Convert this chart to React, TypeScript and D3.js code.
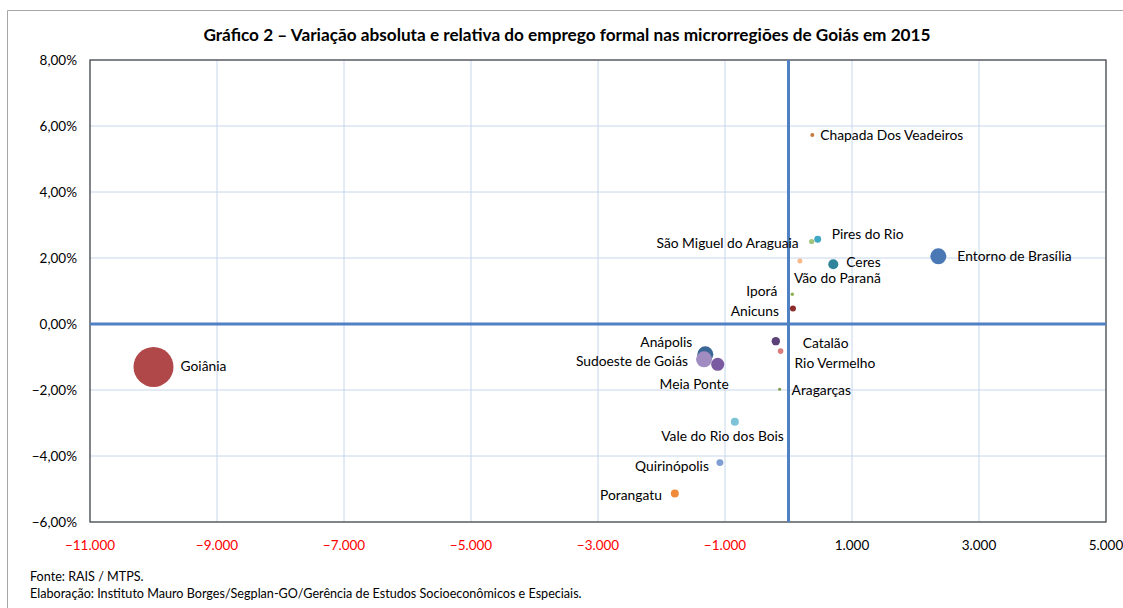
import * as d3 from "d3";

// microrregiões de Goiás, 2015
const regions = [
  "Goiânia",
  "Entorno de Brasília",
  "Ceres",
  "Pires do Rio",
  "São Miguel do Araguaia",
  "Chapada Dos Veadeiros",
  "Vão do Paranã",
  "Iporá",
  "Anicuns",
  "Anápolis",
  "Sudoeste de Goiás",
  "Meia Ponte",
  "Catalão",
  "Rio Vermelho",
  "Aragarças",
  "Vale do Rio dos Bois",
  "Quirinópolis",
  "Porangatu",
];

// variação absoluta (postos)
const absChange = [
  -10000, 2360, 705, 460, 365, 375, 180, 60, 70, -1310, -1330, -1115, -200, -125, -140, -845, -1080, -1790,
];

// variação relativa (%)
const relChange = [
  -1.3, 2.05, 1.81, 2.57, 2.5, 5.73, 1.91, 0.9, 0.47, -0.92, -1.07, -1.22, -0.52, -0.82, -1.98, -2.96, -4.2, -5.14,
];

// estoque de emprego formal (tamanho da bolha)
const stock = [
  700000, 112000, 44000, 21000, 12000, 7000, 11000, 5000, 16000, 112000, 112000, 75000, 31000, 14000, 4000, 28000, 21000,
  28000,
];

const colors = [
  "#b0484a", "#4a78b5", "#31859b", "#3fa8c4", "#a3c47c", "#c97b3f", "#f9b98a", "#8fb152", "#8e2c2c",
  "#3b6796", "#a18cc1", "#7a5aa0", "#5d4179", "#d97c7c", "#7a9a3f", "#7fc3d8", "#7f9fd3", "#f08b3b",
];

// label placement relative to the bubble: [dx, dy, anchor]
const labelPlacement: [number, number, string][] = [
  [27, -1, "start"],
  [19, 0, "start"],
  [13, -2, "start"],
  [14, -5, "start"],
  [-13, 2, "end"],
  [8, 0, "start"],
  [-6, 17, "start"],
  [-15, -3, "end"],
  [-14, 3, "end"],
  [-13, -12, "end"],
  [-16, 2, "end"],
  [11, 20, "end"],
  [27, 2, "start"],
  [14, 12, "start"],
  [12, 1, "start"],
  [49, 14, "end"],
  [-11, 4, "end"],
  [-13, 2, "end"],
];

const xTicks = [-11000, -9000, -7000, -5000, -3000, -1000, 1000, 3000, 5000];
const yTicks = [-6, -4, -2, 0, 2, 4, 6, 8];

const title = "Gráfico 2 – Variação absoluta e relativa do emprego formal nas microrregiões de Goiás em 2015";
const footnotes = [
  "Fonte: RAIS / MTPS.",
  "Elaboração: Instituto Mauro Borges/Segplan-GO/Gerência de Estudos Socioeconômicos e Especiais.",
];

const width = 1123;
const height = 608;
const plot = { left: 90, top: 60, right: 1106, bottom: 522 };
const font = "Lato, 'Open Sans', sans-serif";

const x = d3.scaleLinear().domain([-11000, 5000]).range([plot.left, plot.right]);
const y = d3.scaleLinear().domain([-6, 8]).range([plot.bottom, plot.top]);
const r = d3.scaleSqrt().domain([0, 700000]).range([0, 20]);

const fmtX = (v: number) => d3.format(",")(v).replace(/,/g, ".");
const fmtY = (v: number) => d3.format(".2f")(v).replace(".", ",") + "%";

export default function App() {
  const points = regions.map((name, i) => ({
    name,
    cx: x(absChange[i]),
    cy: y(relChange[i]),
    r: r(stock[i]),
    color: colors[i],
    place: labelPlacement[i],
  }));

  // draw bigger bubbles first
  const order = [...points].sort((a, b) => b.r - a.r);

  return (
    <svg
      width={width}
      height={height}
      style={{ position: "absolute", left: 0, top: 0, background: "#fff" }}
      fontFamily={font}
    >
      <path d={`M7.5,${height} V10.5 H${width}`} fill="none" stroke="#a6a6a6" strokeWidth={1} />

      <text x={567} y={41} textAnchor="middle" fontSize={17.2} fontWeight="bold" fill="#000">
        {title}
      </text>

      {/* gridlines */}
      {xTicks.map((t) => (
        <line key={"gx" + t} x1={x(t)} x2={x(t)} y1={plot.top} y2={plot.bottom} stroke="#c6d6ee" strokeWidth={1} />
      ))}
      {yTicks.map((t) => (
        <line key={"gy" + t} x1={plot.left} x2={plot.right} y1={y(t)} y2={y(t)} stroke="#c6d6ee" strokeWidth={1} />
      ))}

      <rect
        x={plot.left}
        y={plot.top}
        width={plot.right - plot.left}
        height={plot.bottom - plot.top}
        fill="none"
        stroke="#404040"
        strokeWidth={1.2}
      />

      {/* zero axes */}
      <line x1={x(0)} x2={x(0)} y1={plot.top} y2={plot.bottom} stroke="#4f81c4" strokeWidth={3} />
      <line x1={plot.left} x2={plot.right} y1={y(0)} y2={y(0)} stroke="#4f81c4" strokeWidth={3} />

      {/* tick labels */}
      {yTicks.map((t) => (
        <text key={"ty" + t} x={77} y={y(t)} dy="0.35em" textAnchor="end" fontSize={13.5} fill="#000">
          {fmtY(t)}
        </text>
      ))}
      {xTicks.map((t) => (
        <text
          key={"tx" + t}
          x={x(t)}
          y={545}
          dy="0.35em"
          textAnchor="middle"
          fontSize={13.5}
          fill={t < 0 ? "#ff0000" : "#000"}
        >
          {fmtX(t)}
        </text>
      ))}

      {/* bubbles */}
      {order.map((p) => (
        <circle key={"c" + p.name} cx={p.cx} cy={p.cy} r={p.r} fill={p.color} />
      ))}

      {/* labels */}
      {points.map((p) => (
        <text
          key={"l" + p.name}
          x={p.cx + p.place[0]}
          y={p.cy + p.place[1]}
          dy="0.35em"
          textAnchor={p.place[2] as "start" | "end"}
          fontSize={13.8}
          fill="#000"
        >
          {p.name}
        </text>
      ))}

      {footnotes.map((f, i) => (
        <text key={"f" + i} x={30} y={577 + i * 17} dy="0.35em" fontSize={12.6} fill="#000">
          {f}
        </text>
      ))}
    </svg>
  );
}
